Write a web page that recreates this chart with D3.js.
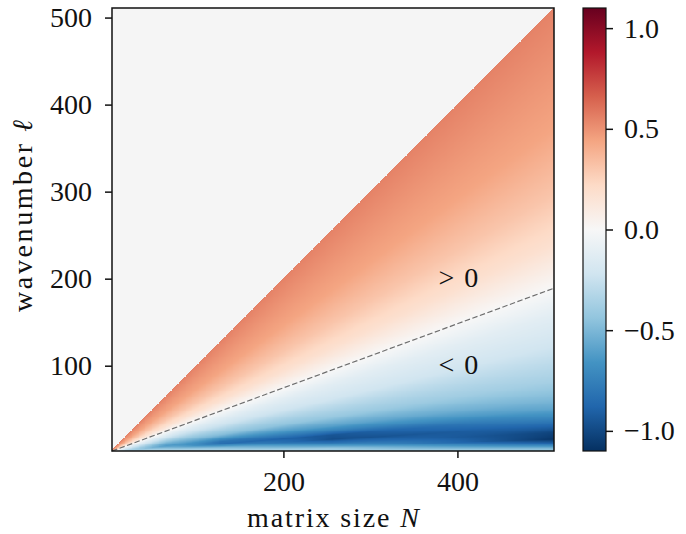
<!DOCTYPE html>
<meta charset="utf-8">
<script src="https://d3js.org/d3.v7.min.js"></script>
<style>
  body { margin: 0; background: #fff; }
  text { font-family: "Liberation Serif", "DejaVu Serif", serif; fill: #111; }
</style>
<div id="chart"></div>
<script>
// matrix sizes at which the profiles were read
var sizeCols = [16, 64, 128, 256, 512];
// ratios l / N along each profile
var ratioStops = [0, 0.01, 0.02, 0.03, 0.045, 0.06, 0.08, 0.1, 0.12, 0.16, 0.24, 0.31, 0.37, 0.47, 0.58, 0.73, 1.0];
// values, one profile per matrix size
var valsN16  = [-0.10, -0.12, -0.14, -0.16, -0.18, -0.20, -0.22, -0.25, -0.28, -0.30, -0.20, -0.10, 0, 0.18, 0.31, 0.44, 0.55];
var valsN64  = [-0.20, -0.22, -0.25, -0.28, -0.32, -0.38, -0.46, -0.56, -0.62, -0.55, -0.30, -0.13, 0, 0.18, 0.31, 0.44, 0.55];
var valsN128 = [-0.25, -0.28, -0.32, -0.38, -0.48, -0.64, -0.84, -0.82, -0.70, -0.48, -0.25, -0.12, 0, 0.18, 0.31, 0.44, 0.55];
var valsN256 = [-0.30, -0.35, -0.42, -0.60, -0.82, -0.98, -0.95, -0.75, -0.60, -0.42, -0.22, -0.12, 0, 0.18, 0.31, 0.44, 0.55];
var valsN512 = [-0.30, -0.50, -0.86, -1.08, -1.02, -0.88, -0.70, -0.57, -0.49, -0.37, -0.22, -0.12, 0, 0.18, 0.31, 0.44, 0.55];
var profiles = [valsN16, valsN64, valsN128, valsN256, valsN512];

var xTicks = [200, 400];
var yTicks = [100, 200, 300, 400, 500];
var cbTicks = [-1.0, -0.5, 0.0, 0.5, 1.0];
var zeroSlope = 0.37;   // dashed line l = 0.37 N

var width = 686, height = 534;
var pLeft = 112, pRight = 554, pTop = 8, pBottom = 451;
var fs = 28;

var svg = d3.select("#chart").append("svg")
  .attr("width", width).attr("height", height);

var x = d3.scaleLinear().domain([3, 511]).range([pLeft, pRight]);
var y = d3.scaleLinear().domain([2, 511]).range([pBottom, pTop]);

// RdBu reversed, same segments as matplotlib
var rdbu = ["#053061", "#2166ac", "#4393c3", "#92c5de", "#d1e5f0", "#f7f7f7",
            "#fddbc7", "#f4a582", "#d6604d", "#b2182b", "#67001f"];
var color = d3.scaleLinear()
  .domain(d3.range(rdbu.length).map(function(i){ return -1.1 + 2.2 * i / (rdbu.length - 1); }))
  .range(rdbu).clamp(true);

var profileScales = profiles.map(function(p){
  return d3.scaleLinear().domain(ratioStops).range(p).clamp(true);
});
function valueAt(n, l) {
  var r = l / n;
  if (n <= sizeCols[0]) return profileScales[0](r);
  var i = d3.bisectRight(sizeCols, n) - 1;
  if (i >= sizeCols.length - 1) return profileScales[sizeCols.length - 1](r);
  var t = (n - sizeCols[i]) / (sizeCols[i + 1] - sizeCols[i]);
  return profileScales[i](r) * (1 - t) + profileScales[i + 1](r) * t;
}

// heatmap into a canvas, then into the svg
var pw = pRight - pLeft, ph = pBottom - pTop;
var canvas = document.createElement("canvas");
canvas.width = pw; canvas.height = ph;
var ctx = canvas.getContext("2d");
var img = ctx.createImageData(pw, ph);
for (var py = 0; py < ph; py++) {
  var l = Math.round(y.invert(pTop + py + 0.5));
  for (var px = 0; px < pw; px++) {
    var n = Math.round(x.invert(pLeft + px + 0.5));
    var c;
    if (l > n) c = d3.rgb("#f5f5f5");
    else c = d3.rgb(color(valueAt(n, l)));
    var k = (py * pw + px) * 4;
    img.data[k] = c.r; img.data[k + 1] = c.g; img.data[k + 2] = c.b; img.data[k + 3] = 255;
  }
}
ctx.putImageData(img, 0, 0);
svg.append("image")
  .attr("x", pLeft).attr("y", pTop)
  .attr("width", pw).attr("height", ph)
  .attr("href", canvas.toDataURL());

// dashed zero line
svg.append("line")
  .attr("x1", x(3)).attr("y1", y(2))
  .attr("x2", x(511)).attr("y2", y(511 * zeroSlope))
  .attr("stroke", "#6e6e6e").attr("stroke-width", 1.2)
  .attr("stroke-dasharray", "5.5,2.5");

svg.append("text").attr("x", x(401)).attr("y", y(190)).attr("text-anchor", "middle")
  .attr("font-size", fs).attr("word-spacing", 3).text("> 0");
svg.append("text").attr("x", x(401)).attr("y", y(90)).attr("text-anchor", "middle")
  .attr("font-size", fs).attr("word-spacing", 3).text("< 0");

// frame
svg.append("rect").attr("x", pLeft).attr("y", pTop).attr("width", pw).attr("height", ph)
  .attr("fill", "none").attr("stroke", "#111").attr("stroke-width", 1.5);

// axes
var xAxis = svg.append("g").attr("transform", "translate(0," + pBottom + ")")
  .call(d3.axisBottom(x).tickValues(xTicks).tickSize(7).tickPadding(13).tickFormat(d3.format("d")));
var yAxis = svg.append("g").attr("transform", "translate(" + pLeft + ",0)")
  .call(d3.axisLeft(y).tickValues(yTicks).tickSize(7).tickPadding(13).tickFormat(d3.format("d")));
[xAxis, yAxis].forEach(function(g){
  g.select(".domain").remove();
  g.selectAll(".tick line").attr("stroke", "#111").attr("stroke-width", 1.5);
  g.selectAll(".tick text").attr("font-size", fs)
    .attr("font-family", "Liberation Serif, DejaVu Serif, serif").attr("fill", "#111");
});

svg.append("text").attr("x", 333).attr("y", 527).attr("text-anchor", "middle")
  .attr("font-size", fs).attr("textLength", 172).attr("lengthAdjust", "spacing")
  .call(function(t){
    t.append("tspan").text("matrix size ");
    t.append("tspan").attr("font-style", "italic").text("N");
  });
svg.append("text").attr("transform", "translate(32,216) rotate(-90)")
  .attr("text-anchor", "middle").attr("font-size", fs)
  .attr("textLength", 192).attr("lengthAdjust", "spacing")
  .call(function(t){
    t.append("tspan").text("wavenumber ");
    t.append("tspan").attr("font-style", "italic").text("ℓ");
  });

// colorbar
var cbLeft = 583, cbW = 23;
var cy = d3.scaleLinear().domain([-1.1, 1.1]).range([pBottom, pTop]);
var grad = svg.append("defs").append("linearGradient").attr("id", "cbgrad")
  .attr("x1", 0).attr("y1", 1).attr("x2", 0).attr("y2", 0);
rdbu.forEach(function(c, i){
  grad.append("stop").attr("offset", i / (rdbu.length - 1)).attr("stop-color", c);
});
svg.append("rect").attr("x", cbLeft).attr("y", pTop).attr("width", cbW).attr("height", ph)
  .attr("fill", "url(#cbgrad)").attr("stroke", "#111").attr("stroke-width", 1.2);
var cbAxis = svg.append("g").attr("transform", "translate(" + (cbLeft + cbW) + ",0)")
  .call(d3.axisRight(cy).tickValues(cbTicks).tickSize(7).tickPadding(11)
    .tickFormat(function(d){ return d3.format(".1f")(d).replace("-", "−"); }));
cbAxis.select(".domain").remove();
cbAxis.selectAll(".tick line").attr("stroke", "#111").attr("stroke-width", 1.5);
cbAxis.selectAll(".tick text").attr("font-size", fs)
  .attr("font-family", "Liberation Serif, DejaVu Serif, serif").attr("fill", "#111");
</script>
